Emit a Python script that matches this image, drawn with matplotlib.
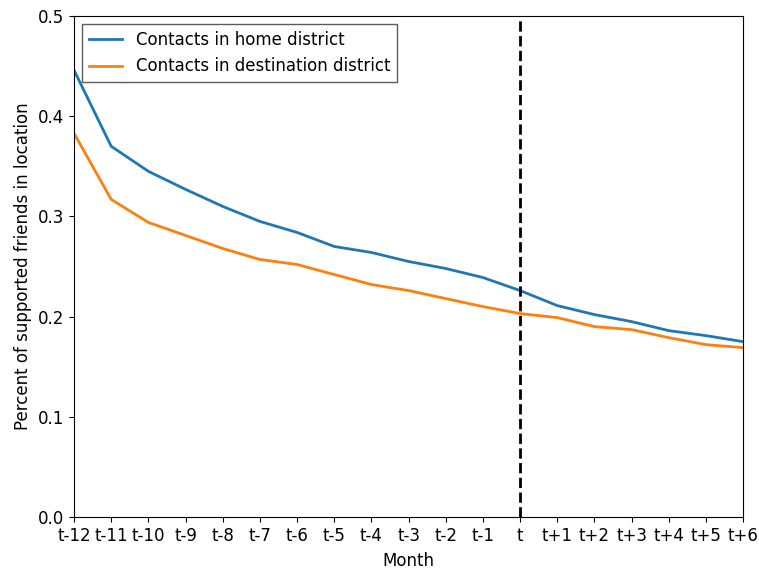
import matplotlib
matplotlib.use("Agg")
import matplotlib.pyplot as plt

plt.rcParams["font.size"] = 12

# month labels relative to move month t
months = ["t-12", "t-11", "t-10", "t-9", "t-8", "t-7", "t-6", "t-5", "t-4",
          "t-3", "t-2", "t-1", "t", "t+1", "t+2", "t+3", "t+4", "t+5", "t+6"]

home = [0.446, 0.370, 0.345, 0.327, 0.310, 0.295, 0.284, 0.270, 0.264,
        0.255, 0.248, 0.239, 0.226, 0.211, 0.202, 0.195, 0.186, 0.181, 0.175]
dest = [0.383, 0.317, 0.294, 0.281, 0.268, 0.257, 0.252, 0.242, 0.232,
        0.226, 0.218, 0.210, 0.203, 0.199, 0.190, 0.187, 0.179, 0.172, 0.169]

x = list(range(len(months)))

fig, ax = plt.subplots(figsize=(7.59, 5.72), dpi=100)
fig.subplots_adjust(left=0.0975, right=0.979, top=0.972, bottom=0.0962)

ax.plot(x, home, color="#1f77b4", lw=2, label="Contacts in home district")
ax.plot(x, dest, color="#ff7f0e", lw=2, label="Contacts in destination district")
ax.axvline(months.index("t"), color="black", ls="--", lw=2)

ax.set_xlim(0, len(months) - 1)
ax.set_ylim(0, 0.5)
ax.set_xticks(x)
ax.set_xticklabels(months)
ax.set_xlabel("Month", labelpad=5)
ax.set_ylabel("Percent of supported friends in location")

leg = ax.legend(loc="upper left", fancybox=False, edgecolor="#333333")
leg.get_frame().set_linewidth(1.0)

fig.savefig("out.png", dpi=100)
